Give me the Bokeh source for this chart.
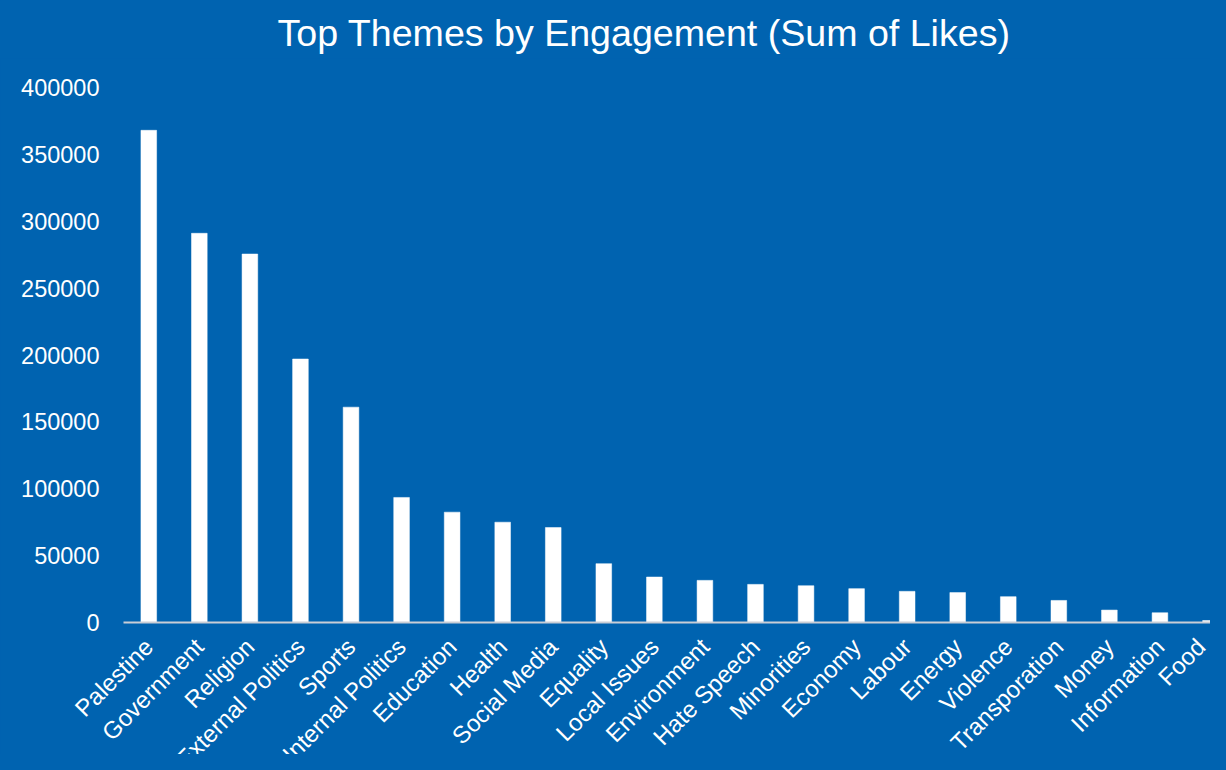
import math
from bokeh.plotting import figure
from bokeh.models import Range1d, FixedTicker, NumeralTickFormatter, ColumnDataSource
from bokeh.embed import file_html
from bokeh.resources import INLINE

themes = ["Palestine", "Government", "Religion", "External Politics", "Sports",
          "Internal Politics", "Education", "Health", "Social Media", "Equality",
          "Local Issues", "Environment", "Hate Speech", "Minorities", "Economy",
          "Labour", "Energy", "Violence", "Transporation", "Money", "Information", "Food"]
likes = [368000, 291000, 275500, 197000, 161000,
         93500, 82500, 75000, 71000, 44000,
         34000, 31500, 28500, 27500, 25300,
         23300, 22400, 19300, 16500, 9300, 7300, 1500]
y_ticks = [0, 50000, 100000, 150000, 200000, 250000, 300000, 350000, 400000]

BG = "#0063B0"
FONT = "Liberation Sans"

W, H = 1210, 754
FRAME_TOP = 58          # top of the plotting frame
TOP_Y = 87              # pixel row of the 400000 level
AXIS_Y = 622            # pixel row of the zero level
PLOT_LEFT = 123         # pixel column where the category axis begins
n = len(themes)
x_end = n - 0.5                            # last category centre sits on the right edge
step = (W - PLOT_LEFT) / x_end             # pixels per category
x_start = -PLOT_LEFT / step
y_per_px = 400000 / (AXIS_Y - TOP_Y)
y_bottom = -(H - AXIS_Y) * y_per_px
y_top = 400000 + (TOP_Y - FRAME_TOP) * y_per_px

pos = [i + 0.5 for i in range(n)]
src = ColumnDataSource(data=dict(x=pos, top=likes, name=themes))

p = figure(width=W, height=H, output_backend="svg", toolbar_location=None,
           x_range=Range1d(x_start, x_end), y_range=Range1d(y_bottom, y_top),
           title="Top Themes by Engagement (Sum of Likes)",
           min_border_left=0, min_border_right=0, min_border_top=FRAME_TOP,
           min_border_bottom=0)

p.vbar(x="x", top="top", bottom=0, width=0.31, source=src,
       fill_color="white", line_color="white", line_width=0.5)

p.background_fill_color = BG
p.border_fill_color = BG
p.outline_line_color = None
p.xgrid.visible = False
p.ygrid.visible = False

p.title.text_color = "white"
p.title.text_font = FONT
p.title.text_font_size = "37.6px"
p.title.text_font_style = "normal"
p.title.align = "left"
p.title.offset = 277
p.title.standoff = 10

ya = p.yaxis[0]
ya.fixed_location = 0
ya.bounds = (0, 400000)
ya.ticker = FixedTicker(ticks=y_ticks)
ya.formatter = NumeralTickFormatter(format="0")
ya.axis_line_color = None
ya.major_tick_line_color = None
ya.minor_tick_line_color = None
ya.major_label_text_color = "white"
ya.major_label_text_font = FONT
ya.major_label_text_font_size = "23.5px"
ya.major_label_standoff = 18

xa = p.xaxis[0]
xa.fixed_location = 0
xa.bounds = (0, x_end)
xa.ticker = FixedTicker(ticks=pos)
xa.major_label_overrides = {pv: t for pv, t in zip(pos, themes)}
xa.major_label_orientation = math.pi / 4
xa.axis_line_color = "#c9ced6"
xa.axis_line_width = 2
xa.major_tick_line_color = None
xa.minor_tick_line_color = None
xa.major_label_text_color = "white"
xa.major_label_text_font = FONT
xa.major_label_text_font_size = "24px"
xa.major_label_standoff = 14

html = file_html(p, INLINE)
html = html.replace("<head>", "<head><style>html,body{background:%s;}</style>" % BG, 1)
open("out.html", "w").write(html)
